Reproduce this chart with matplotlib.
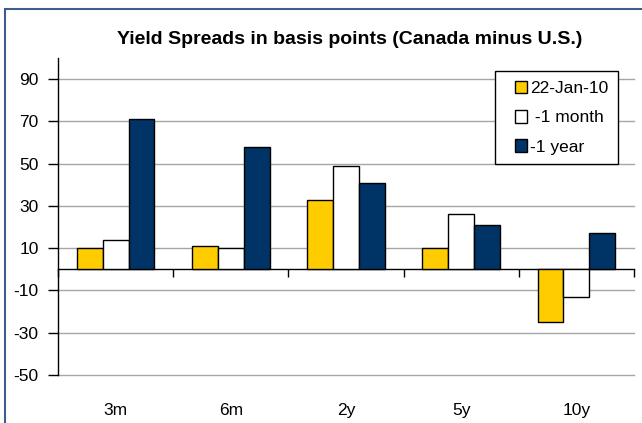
import numpy as np
import matplotlib
matplotlib.use("Agg")
from matplotlib import pyplot as plt
from matplotlib.patches import Rectangle, Patch
from matplotlib.legend_handler import HandlerPatch

categories = ["3m", "6m", "2y", "5y", "10y"]
spread_now = [10, 11, 33, 10, -25]
spread_1m = [14, 10, 49, 26, -13]
spread_1y = [71, 58, 41, 21, 17]
series_labels = ["22-Jan-10", " -1 month", "-1 year"]
y_ticks = [-50, -30, -10, 10, 30, 50, 70, 90]

plt.rcParams["font.family"] = ["Liberation Sans", "DejaVu Sans"]
plt.rcParams["axes.unicode_minus"] = False

fig = plt.figure(figsize=(6.42, 4.23), dpi=100)
ax = fig.add_axes([58 / 642, 48 / 423, 576 / 642, 317 / 423])

x = np.arange(len(categories))
w = 0.225
colors = ["#FFCC00", "#FFFFFF", "#003366"]
for i, vals in enumerate([spread_now, spread_1m, spread_1y]):
    ax.bar(x + (i - 1) * w, vals, w, color=colors[i], edgecolor="black",
           linewidth=1, zorder=3)

ax.set_xlim(-0.5, len(categories) - 0.5)
ax.set_ylim(-50, 100)
ax.set_yticks(y_ticks)
ax.yaxis.grid(True, color="#A6A6A6", linewidth=1, zorder=0)
for gl in ax.get_ygridlines():
    gl.set_clip_on(False)
ax.tick_params(axis="y", direction="out", length=7, width=1, labelsize=12.5, pad=7)

for s in ["top", "right", "bottom"]:
    ax.spines[s].set_visible(False)
ax.spines["left"].set_linewidth(1)

ax.set_xticks(x)
ax.set_xticklabels(categories)
ax.tick_params(axis="x", length=0, labelsize=12.5, pad=20)

# category axis drawn at zero with separator ticks
sec = ax.secondary_xaxis(0, transform=ax.transData)
sec.set_xticks(np.arange(len(categories) + 1) - 0.5)
sec.set_xticklabels([])
sec.tick_params(axis="x", direction="out", length=6, width=1)
sec.spines["bottom"].set_linewidth(1)

ax.set_title("Yield Spreads in basis points (Canada minus U.S.)",
             fontsize=14, fontweight="bold", pad=10, x=0.506)

handles = [Patch(facecolor=c, edgecolor="black", linewidth=1) for c in colors]
leg = ax.legend(handles, series_labels, loc="upper left",
                bbox_to_anchor=(0.7587, 0.959), fontsize=12.5,
                frameon=True, fancybox=False, framealpha=1, edgecolor="black",
                handlelength=1.3, handleheight=0.75, handletextpad=0.15,
                labelspacing=0.8, borderpad=0.55, borderaxespad=0,
                handler_map={Patch: HandlerPatch(xpad=0.6)})
leg.get_frame().set_linewidth(1)

fig.patches.append(Rectangle((5 / 642, -0.1), 1.2, 1.1 - 9 / 423,
                             transform=fig.transFigure, fill=False,
                             edgecolor="#3B5E8C", linewidth=1.5))

fig.savefig("out.png", dpi=100)
